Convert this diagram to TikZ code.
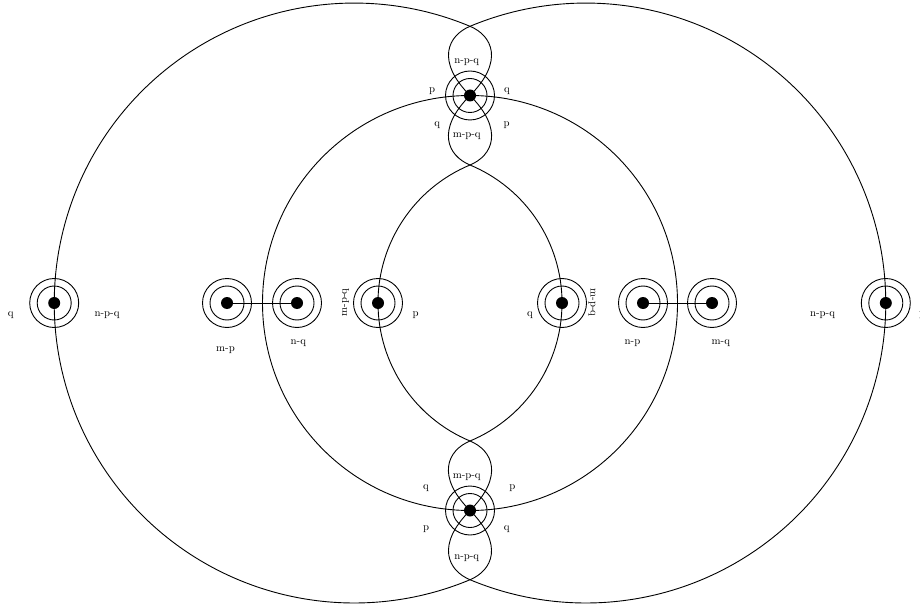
\documentclass[tikz,border=0pt]{standalone}
\begin{document}
\begin{tikzpicture}[x=1pt,y=1pt,
  edge/.style={line width=0.9pt},
  ring/.style={line width=0.9pt},
  fromv/.style={out looseness=1.8,in looseness=0.9},
  tov/.style={out looseness=0.9,in looseness=1.8},
  vtx/.style={circle,fill=black,minimum size=12pt,inner sep=0pt},
  lbl/.style={font=\fontsize{10.8}{13}\selectfont,anchor=base,inner sep=0pt}]
\useasboundingbox (0,0) rectangle (920,606);
\fill[white] (0,0) rectangle (920,606);
% vertices
\node[vtx] (A) at (54.2,303) {};
\node[vtx] (B) at (227,303) {};
\node[vtx] (C) at (297,303) {};
\node[vtx] (D) at (378,303) {};
\node[vtx] (E) at (562,303) {};
\node[vtx] (F) at (643,303) {};
\node[vtx] (G) at (712,303) {};
\node[vtx] (H) at (885.8,303) {};
\node[vtx] (T) at (470,510.5) {};
\node[vtx] (U) at (470,95.5) {};
\foreach \n in {A,B,C,D,E,F,G,H,T,U}
  \draw[ring] (\n.center) circle (17pt) (\n.center) circle (24.5pt);
% crossing points
\coordinate (Xt) at (470,579.7);
\coordinate (Xb) at (470,26.3);
\coordinate (Lt) at (470,441);
\coordinate (Lb) at (470,165);
% straight edges
\draw[edge] (B.center) -- (C.center);
\draw[edge] (F.center) -- (G.center);
% middle circle
\draw[edge] (T.center) arc[start angle=90,end angle=270,radius=207.5pt];
\draw[edge] (T.center) arc[start angle=90,end angle=-90,radius=207.5pt];
% left big arcs
\draw[edge] (T.center) to[out=45,in=-22.7,fromv] (Xt)
  arc[start angle=67.3,end angle=180,radius=300pt];
\draw[edge] (A.center) arc[start angle=180,end angle=292.7,radius=300pt]
  to[out=22.7,in=-45,tov] (U.center);
% right big arcs
\draw[edge] (T.center) to[out=135,in=202.7,fromv] (Xt)
  arc[start angle=112.7,end angle=0,radius=300pt];
\draw[edge] (H.center) arc[start angle=0,end angle=-112.7,radius=300pt]
  to[out=157.3,in=-135,tov] (U.center);
% left lens
\draw[edge] (T.center) to[out=-45,in=22.6,fromv] (Lt)
  arc[start angle=112.6,end angle=180,radius=149.5pt];
\draw[edge] (D.center) arc[start angle=180,end angle=247.4,radius=149.5pt]
  to[out=-22.6,in=45,tov] (U.center);
% right lens
\draw[edge] (T.center) to[out=-135,in=157.4,fromv] (Lt)
  arc[start angle=67.4,end angle=0,radius=149.5pt];
\draw[edge] (E.center) arc[start angle=0,end angle=-67.4,radius=149.5pt]
  to[out=-157.4,in=135,tov] (U.center);
% labels on the axis
\node[lbl] (l1) at (10.7,290) {q};
\node[lbl] (l2) at (107,290) {n-p-q};
\node[lbl] (l3) at (225.5,255) {m-p};
\node[lbl] (l4) at (298.3,261.7) {n-q};
\node[lbl,anchor=center,rotate=90] (l5) at (345.5,303.5) {m-p-q};
\node[lbl] (l6) at (415.5,290) {p};
\node[lbl] (l7) at (530,290) {q};
\node[lbl,anchor=center,rotate=-90] (l8) at (592,303.5) {m-p-q};
\node[lbl] (l9) at (632.5,261.7) {n-p};
\node[lbl] (l10) at (720.8,261.7) {m-q};
\node[lbl] (l11) at (822.5,290) {n-p-q};
\node[lbl] (l12) at (922,290) {p};
% labels around top vertex
\node[lbl] (t1) at (466.7,542.7) {n-p-q};
\node[lbl] (t2) at (432,513.3) {p};
\node[lbl] (t3) at (507,513.3) {q};
\node[lbl] (t4) at (437.3,479.3) {q};
\node[lbl] (t5) at (506.7,479.3) {p};
\node[lbl] (t6) at (466.7,468.3) {m-p-q};
% labels around bottom vertex
\node[lbl] (b1) at (466.7,127.7) {m-p-q};
\node[lbl] (b2) at (426,117) {q};
\node[lbl] (b3) at (512.3,117) {p};
\node[lbl] (b4) at (426,76) {p};
\node[lbl] (b5) at (506.7,76) {q};
\node[lbl] (b6) at (466.7,46.7) {n-p-q};
\end{tikzpicture}
\end{document}
